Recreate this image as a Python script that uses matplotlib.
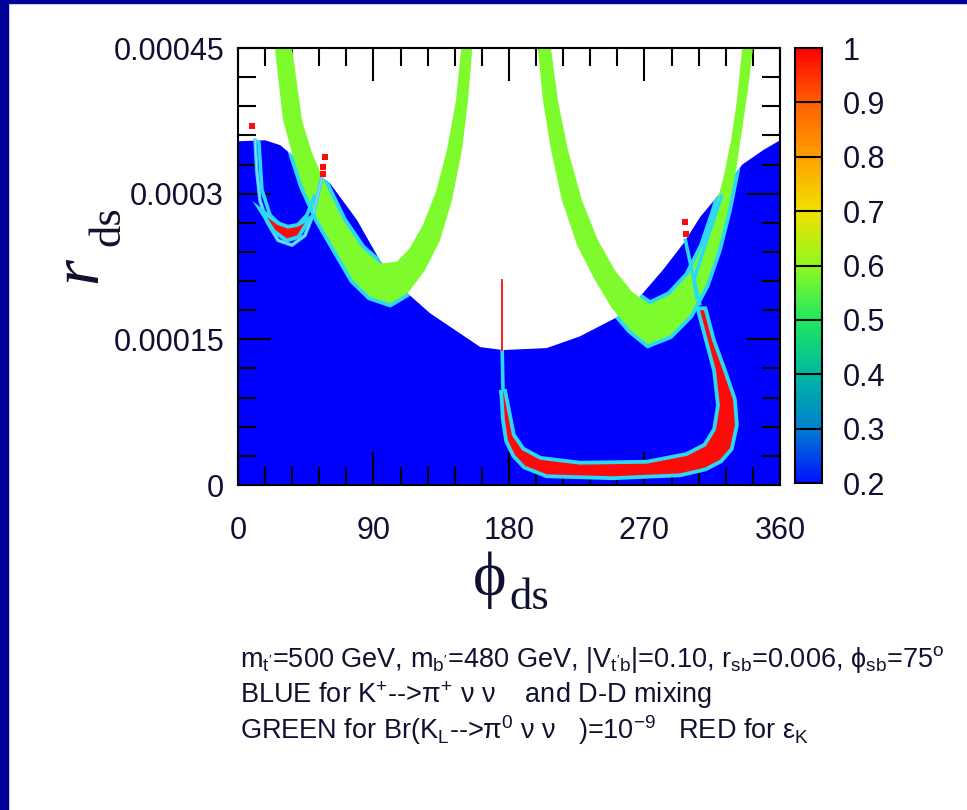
import numpy as np
import matplotlib
matplotlib.use("Agg")
import matplotlib.pyplot as plt
from matplotlib import font_manager
from matplotlib.patches import Polygon, Rectangle
from matplotlib.colors import LinearSegmentedColormap, Normalize
from matplotlib.cm import ScalarMappable
from matplotlib.ticker import MultipleLocator, FuncFormatter


R_UNIT = 1e-4  # all r values below are in units of 1e-4

# upper edge of the blue (K+ -> pi+ nu nu and D-D mixing) allowed region
blue_phi = [0, 18, 28, 46, 61, 79, 94, 110, 127.5, 161, 176, 205, 227, 252,
            267, 282, 296, 307, 322, 335, 349, 360]
blue_r = [3.54, 3.55, 3.50, 3.27, 3.11, 2.73, 2.32, 2.01, 1.77, 1.42, 1.39,
          1.41, 1.53, 1.73, 1.94, 2.21, 2.49, 2.76, 3.04, 3.30, 3.45, 3.55]

# green bands (Br(KL -> pi0 nu nu) = 1e-9), outline: outer edge then inner edge
green1_phi = [23.9, 29.9, 35.9, 43.2, 53.1, 65.8, 76.4, 87.7, 101.0, 112.9, 124.2,
              134.2, 142.1, 148.8, 152.8, 156.1,
              148.8, 144.8, 138.8, 131.5, 122.9, 114.2, 105.6, 94.3, 82.4, 69.7,
              59.1, 49.1, 42.5, 35.2]
green1_r = [4.58, 3.76, 3.42, 3.07, 2.73, 2.39, 2.11, 1.94, 1.87, 1.98, 2.21,
            2.52, 2.93, 3.45, 3.96, 4.58,
            4.58, 3.96, 3.45, 3.02, 2.68, 2.44, 2.30, 2.28, 2.44, 2.73,
            3.07, 3.42, 3.76, 4.58]

green2_phi = [198.6, 202.6, 207.9, 215.2, 225.2, 237.1, 248.4, 260.4, 272.3,
              286.9, 300.2, 310.8, 318.8, 325.5, 330.8, 334.8, 338.7, 342.7,
              335.4, 331.4, 327.5, 322.8, 316.8, 308.9, 298.9, 286.9, 273.6,
              261.7, 250.4, 239.1, 228.5, 219.2, 212.5, 207.2]
green2_r = [4.58, 3.96, 3.45, 2.93, 2.47, 2.11, 1.82, 1.60, 1.45,
            1.54, 1.75, 2.06, 2.42, 2.83, 3.24, 3.66, 4.07, 4.58,
            4.58, 3.96, 3.55, 3.19, 2.83, 2.47, 2.16, 1.96, 1.86,
            1.99, 2.21, 2.52, 2.93, 3.45, 3.96, 4.58]

# red (epsilon_K) regions
red_u_phi = [176, 177.3, 179.3, 184, 190.6, 205.2, 249.1, 293.6, 310.2, 320.1,
             326.8, 330.1, 328.8, 322.1, 314.8, 309.5,
             306.9, 312.2, 317.5, 320.1, 317.5, 310.8, 298.2, 271.6, 227.2,
             200.6, 188.6, 182, 178.7]
red_u_r = [0.98, 0.67, 0.46, 0.31, 0.20, 0.11, 0.09, 0.12, 0.18, 0.26,
           0.38, 0.62, 0.88, 1.18, 1.49, 1.80,
           1.80, 1.49, 1.18, 0.82, 0.57, 0.40, 0.30, 0.22, 0.21,
           0.26, 0.36, 0.51, 0.77]

red_c_phi = [19.3, 24.6, 32.5, 39.2, 44.5, 40.0, 33.0, 26.0]
red_c_r = [2.76, 2.63, 2.54, 2.57, 2.70, 2.66, 2.64, 2.68]

red_dot_phi = [9.3, 57.8, 56.8, 56.2, 296.9, 297.6]
red_dot_r = [3.70, 3.38, 3.28, 3.20, 2.71, 2.59]

red_line_phi = [175.5, 175.5]
red_line_r = [2.11, 1.39]

# thin cyan contour lines
loop_outer_phi = [11.3, 12.5, 14.6, 19.3, 26.6, 35.9, 44.5, 49.8, 53.1, 55.8]
loop_outer_r = [3.57, 3.24, 2.93, 2.71, 2.52, 2.47, 2.57, 2.78, 2.99, 3.17]
loop_inner_phi = [13.8, 15.9, 21.3, 29.9, 39.2, 45.8, 51.1]
loop_inner_r = [3.55, 3.04, 2.78, 2.65, 2.67, 2.78, 2.99]
cyan_a_phi = [175.5, 176]
cyan_a_r = [1.39, 0.98]
cyan_b_phi = [296.9, 301.5, 306.9]
cyan_b_r = [2.54, 2.21, 1.85]
cyan_c_phi = [321.5, 310.2, 302.9, 304.9]
cyan_c_r = [2.99, 2.47, 2.11, 1.91]

cbar_levels = [0.2, 0.3, 0.4, 0.5, 0.6, 0.7, 0.8, 0.9, 1.0]
cbar_colors = ["#0010FF", "#0080D0", "#00B8A0", "#20E860", "#90F820",
               "#F0E000", "#FFA000", "#FF6000", "#FF0000"]

x_ticks = [0, 90, 180, 270, 360]
y_ticks = [0, 1.5e-4, 3.0e-4, 4.5e-4]

notes = [
    "m$_{t'}$=500 GeV, m$_{b'}$=480 GeV, |V$_{t'b}$|=0.10, r$_{sb}$=0.006, ϕ$_{sb}$=75$^{o}$",
    "BLUE for K$^{+}$-->π$^{+}$ ν ν    and D-D mixing",
    "GREEN for Br(K$_{L}$-->π$^{0}$ ν ν   )=10$^{-9}$   RED for ε$_{K}$",
]

BLUE = "#0000FF"
GREEN = "#7DFB2D"
RED = "#FF0A0A"
CYAN = "#2CD8F8"
NAVY = "#000099"
INK = "#101030"


def pick_font(*names):
    installed = {f.name for f in font_manager.fontManager.ttflist}
    for name in names:
        if name in installed:
            return name
    return "DejaVu Sans"


SANS = pick_font("Liberation Sans Narrow", "Liberation Sans")
SERIF = pick_font("Liberation Serif", "DejaVu Serif")
plt.rcParams["font.family"] = [SANS, "DejaVu Sans"]
plt.rcParams["mathtext.default"] = "regular"


def pts(phi, r):
    return np.column_stack((phi, np.asarray(r) * R_UNIT))


fig = plt.figure(figsize=(9.67, 8.10), dpi=100)
fig.patches.append(Rectangle((0, 0), 8 / 967, 1, transform=fig.transFigure,
                             color=NAVY, zorder=0))
fig.patches.append(Rectangle((0, 1 - 3 / 810), 1, 3 / 810, transform=fig.transFigure,
                             color=NAVY, zorder=0))

ax = fig.add_axes([0.2461, 0.4012, 0.5605, 0.5395])
ax.set_xlim(0, 360)
ax.set_ylim(0, 4.5e-4)

blue_verts = np.vstack(([[blue_phi[0], 0]], pts(blue_phi, blue_r), [[blue_phi[-1], 0]]))
blue_patch = Polygon(blue_verts, closed=True, facecolor=BLUE, edgecolor="none", zorder=1)
ax.add_patch(blue_patch)

for phi, r in [(green1_phi, green1_r), (green2_phi, green2_r)]:
    edge = Polygon(pts(phi, r), closed=True, fill=False, edgecolor=CYAN, lw=5.5, zorder=2)
    ax.add_patch(edge)
    edge.set_clip_path(blue_patch)
    ax.add_patch(Polygon(pts(phi, r), closed=True, facecolor=GREEN, edgecolor="none", zorder=3))

for phi, r in [(loop_outer_phi, loop_outer_r), (loop_inner_phi, loop_inner_r),
               (cyan_a_phi, cyan_a_r), (cyan_b_phi, cyan_b_r), (cyan_c_phi, cyan_c_r)]:
    ax.plot(phi, np.asarray(r) * R_UNIT, color=CYAN, lw=2.6, zorder=4,
            solid_capstyle="butt")
ax.plot(loop_outer_phi, np.asarray(loop_outer_r) * R_UNIT, color="#B8C8FF", lw=0.8, zorder=4)

for phi, r in [(red_u_phi, red_u_r), (red_c_phi, red_c_r)]:
    ax.add_patch(Polygon(pts(phi, r), closed=True, fill=False, edgecolor=CYAN, lw=5.5, zorder=4))
    ax.add_patch(Polygon(pts(phi, r), closed=True, facecolor=RED, edgecolor="none", zorder=5))

ax.plot(red_line_phi, np.asarray(red_line_r) * R_UNIT, color=RED, lw=1.3, zorder=5)
ax.scatter(red_dot_phi, np.asarray(red_dot_r) * R_UNIT, s=14, marker="s", color=RED,
           linewidths=0, zorder=6)

ax.set_xticks(x_ticks)
ax.set_yticks(y_ticks)
ax.xaxis.set_minor_locator(MultipleLocator(18))
ax.yaxis.set_minor_locator(MultipleLocator(3e-5))
ax.yaxis.set_major_formatter(FuncFormatter(lambda v, _: f"{v:g}"))
ax.tick_params(which="both", direction="in", top=True, right=True, width=1.5,
               color="black", labelsize=22, labelcolor=INK)
ax.tick_params(which="major", length=24)
ax.tick_params(which="minor", length=13)
ax.tick_params(axis="x", pad=22)
ax.tick_params(axis="y", pad=10)
for spine in ax.spines.values():
    spine.set_linewidth(1.5)
    spine.set_zorder(7)

cmap = LinearSegmentedColormap.from_list(
    "scan", list(zip(np.linspace(0, 1, len(cbar_colors)), cbar_colors)))
norm = Normalize(cbar_levels[0], cbar_levels[-1])
cax = fig.add_axes([0.8221, 0.4037, 0.0279, 0.5370])
cb = fig.colorbar(ScalarMappable(norm=norm, cmap=cmap), cax=cax, ticks=cbar_levels)
cb.ax.yaxis.set_major_formatter(FuncFormatter(lambda v, _: f"{v:g}"))
cb.outline.set_linewidth(1.5)
cax.tick_params(length=0, pad=15, labelsize=22, labelcolor=INK)
for v in cbar_levels[1:-1]:
    cax.axhline(v, color="black", lw=1.5)

# axis titles
fig.text(490 / 967, 1 - 580 / 810, "ϕ", family=[SERIF, "DejaVu Serif"], fontsize=46,
         ha="center", va="center", color=INK)
fig.text(529 / 967, 1 - 598 / 810, "ds", family=[SERIF, "DejaVu Serif"], fontsize=32,
         ha="center", va="center", color=INK)
fig.text(80 / 967, 1 - 270 / 810, "r", family=[SERIF, "DejaVu Serif"], style="italic",
         fontsize=48, rotation=90, ha="center", va="center", color=INK)
fig.text(108 / 967, 1 - 226 / 810, "ds", family=[SERIF, "DejaVu Serif"], fontsize=32,
         rotation=90, ha="center", va="center", color=INK)

for i, line in enumerate(notes):
    fig.text(240 / 967, 1 - (667 + 36 * i) / 810, line, fontsize=19.5,
             ha="left", va="baseline", color=INK)

fig.savefig("out.png", dpi=100, facecolor="white")
